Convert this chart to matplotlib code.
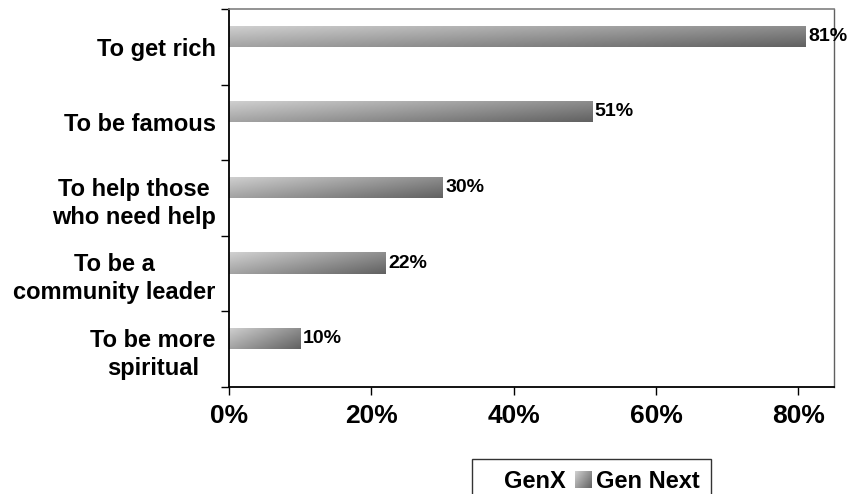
import numpy as np
import matplotlib
matplotlib.use("Agg")
import matplotlib.pyplot as plt
from matplotlib.patches import Patch
from matplotlib.ticker import FuncFormatter, FixedLocator
from matplotlib.legend_handler import HandlerBase
from matplotlib.image import BboxImage
from matplotlib.transforms import Bbox, TransformedBbox
from matplotlib.colors import Normalize

plt.rcParams['font.family'] = ['Liberation Sans', 'DejaVu Sans']
plt.rcParams['font.weight'] = 'bold'

# data
categories = ["To get rich", "To be famous", "To help those\nwho need help",
              "To be a\ncommunity leader", "To be more\nspiritual"]
gen_next = [81, 51, 30, 22, 10]
genx = [0, 0, 0, 0, 0]
series_names = ["GenX", "Gen Next"]

# gradient (light left/top -> dark right/bottom)
u = np.linspace(0, 1, 200)[None, :]
v = np.linspace(0, 1, 40)[:, None]
grad = 0.82 - 0.26*u - 0.18*v


class GradHandler(HandlerBase):
    def create_artists(self, legend, orig, xdescent, ydescent, width, height,
                       fontsize, trans):
        bb = Bbox.from_bounds(-xdescent, -ydescent, width, height)
        img = BboxImage(TransformedBbox(bb, trans), cmap="gray",
                        norm=Normalize(0, 1), interpolation="bilinear")
        img.set_data(grad)
        return [img]


fig = plt.figure(figsize=(8.53, 4.94), dpi=100)
ax = fig.add_axes([229/853, 1 - 387/494, (834 - 229)/853, (387 - 9)/494])

y = np.arange(len(categories))
h = 0.28
bars_next = ax.barh(y - h/2, gen_next, height=h, color="#a0a0a0", linewidth=0)
ax.barh(y + h/2, genx, height=h, color="white", linewidth=0)

for b in bars_next:
    x0, y0 = b.get_x(), b.get_y()
    w, hh = b.get_width(), b.get_height()
    im = ax.imshow(grad, cmap="gray", vmin=0, vmax=1, aspect="auto",
                   extent=(x0, x0 + w, y0 + hh, y0), origin="upper",
                   interpolation="bilinear", zorder=2)
    im.set_clip_path(b)

for b, val in zip(bars_next, gen_next):
    ax.text(b.get_width() + 0.35, b.get_y() + b.get_height()/2, f"{val}%",
            va="center", ha="left", fontsize=14, fontweight="bold", zorder=5)

ax.set_xlim(0, 85)
ax.set_ylim(len(categories) - 0.5, -0.5)
ax.set_xticks([0, 20, 40, 60, 80])
ax.xaxis.set_major_formatter(FuncFormatter(lambda x, p: f"{x:.0f}%"))
ax.set_yticks(y)
ax.set_yticklabels(categories, fontsize=17, fontweight="bold",
                   multialignment="center", linespacing=1.3)
ax.yaxis.set_minor_locator(FixedLocator(np.arange(-0.5, len(categories), 1)))
ax.tick_params(axis="y", which="major", length=0, pad=9.5)
ax.tick_params(axis="y", which="minor", length=6, width=1, direction="out")
ax.tick_params(axis="x", which="major", length=6, width=1, direction="out",
               labelsize=19, pad=6)
for lab in ax.get_xticklabels():
    lab.set_fontweight("bold")

ax.spines["left"].set_color("black")
ax.spines["bottom"].set_color("black")
ax.spines["left"].set_linewidth(1.3)
ax.spines["bottom"].set_linewidth(1.3)
ax.spines["top"].set_color("#808080")
ax.spines["right"].set_color("#606060")
ax.spines["top"].set_linewidth(1.2)
ax.spines["right"].set_linewidth(1.0)

h_genx = Patch(facecolor="white", edgecolor="none")
h_next = Patch(facecolor="#8e8e8e", edgecolor="none")
leg = fig.legend([h_genx, h_next], series_names, loc="upper left",
                 bbox_to_anchor=(472/853, 1 - 459/494), ncol=2,
                 frameon=True, fancybox=False, edgecolor="black",
                 prop={"size": 17, "weight": "bold"}, borderaxespad=0,
                 handlelength=0.7, handleheight=0.7, handletextpad=0.2,
                 columnspacing=0.4, borderpad=0.45,
                 handler_map={h_next: GradHandler()})
leg.get_frame().set_linewidth(1.0)

fig.savefig("out.png", dpi=100)
